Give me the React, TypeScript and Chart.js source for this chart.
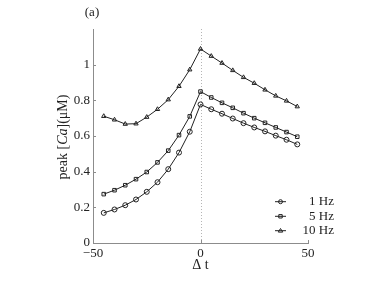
import React, { useEffect, useRef } from "react";
import { Chart, registerables } from "chart.js";

Chart.register(...registerables);

const deltaT = [-45, -40, -35, -30, -25, -20, -15, -10, -5, 0, 5, 10, 15, 20, 25, 30, 35, 40, 45];
const hz1 = [0.169, 0.188, 0.212, 0.244, 0.287, 0.341, 0.414, 0.507, 0.624, 0.777, 0.750, 0.725, 0.698, 0.672, 0.648, 0.626, 0.602, 0.579, 0.553];
const hz5 = [0.274, 0.296, 0.324, 0.358, 0.398, 0.452, 0.518, 0.605, 0.710, 0.849, 0.816, 0.786, 0.758, 0.728, 0.700, 0.674, 0.648, 0.622, 0.596];
const hz10 = [0.711, 0.691, 0.667, 0.669, 0.706, 0.750, 0.804, 0.879, 0.972, 1.088, 1.048, 1.009, 0.968, 0.929, 0.896, 0.859, 0.825, 0.797, 0.765];
const seriesLabels = ["1 Hz", "5 Hz", "10 Hz"];
const seriesMarkers = ["circle", "rect", "triangle"];
const xTicks = [-50, 0, 50];
const yTicks = [0, 0.2, 0.4, 0.6, 0.8, 1];

const FONT = "'Liberation Serif', 'DejaVu Serif', serif";
const INK = "#222";
const AXIS = "#8c8c8c";

function drawMarker(ctx: CanvasRenderingContext2D, style: string, x: number, y: number, r: number) {
  ctx.beginPath();
  if (style === "circle") {
    ctx.arc(x, y, r, 0, Math.PI * 2);
  } else if (style === "rect") {
    ctx.rect(x - r * 0.85, y - r * 0.85, r * 1.7, r * 1.7);
  } else {
    ctx.moveTo(x, y - r * 1.1);
    ctx.lineTo(x + r * 1.1, y + r * 0.7);
    ctx.lineTo(x - r * 1.1, y + r * 0.7);
    ctx.closePath();
  }
  ctx.stroke();
}

const decorPlugin = {
  id: "decor",
  beforeDatasetsDraw(chart: any) {
    const { ctx, chartArea, scales } = chart;
    const x0 = scales.x.getPixelForValue(0);
    ctx.save();
    ctx.strokeStyle = "#b5b5b5";
    ctx.lineWidth = 1;
    ctx.setLineDash([1, 2]);
    ctx.beginPath();
    ctx.moveTo(Math.round(x0) + 0.5, chartArea.top);
    ctx.lineTo(Math.round(x0) + 0.5, chartArea.bottom);
    ctx.stroke();
    ctx.setLineDash([]);
    ctx.strokeStyle = AXIS;
    ctx.beginPath();
    for (const v of xTicks) {
      const px = Math.round(scales.x.getPixelForValue(v)) + 0.5;
      ctx.moveTo(px, chartArea.bottom);
      ctx.lineTo(px, chartArea.bottom - 3);
    }
    for (const v of yTicks) {
      const py = Math.round(scales.y.getPixelForValue(v)) + 0.5;
      ctx.moveTo(chartArea.left, py);
      ctx.lineTo(chartArea.left + 3, py);
    }
    ctx.stroke();
    ctx.restore();
  },
  afterDraw(chart: any) {
    const { ctx, chartArea } = chart;
    ctx.save();
    ctx.fillStyle = INK;
    ctx.font = `13px ${FONT}`;
    ctx.textAlign = "center";
    ctx.textBaseline = "middle";
    ctx.fillText("(a)", 92, 13);
    ctx.font = `14px ${FONT}`;
    ctx.fillText("\u0394 t", (chartArea.left + chartArea.right) / 2, 265);
    const parts = [
      { t: "peak [", f: `14px ${FONT}` },
      { t: "Ca", f: `italic 14px ${FONT}` },
      { t: "](\u03bcM)", f: `14px ${FONT}` },
    ];
    let total = 0;
    for (const p of parts) {
      ctx.font = p.f;
      total += ctx.measureText(p.t).width;
    }
    ctx.translate(63, 137);
    ctx.rotate(-Math.PI / 2);
    ctx.textAlign = "left";
    let xx = -total / 2;
    for (const p of parts) {
      ctx.font = p.f;
      ctx.fillText(p.t, xx, 0);
      xx += ctx.measureText(p.t).width;
    }
    ctx.restore();

    ctx.save();
    const rows = [201.7, 216.3, 230.7];
    chart.data.datasets.forEach((ds: any, i: number) => {
      const y = rows[i];
      ctx.strokeStyle = INK;
      ctx.lineWidth = 1;
      ctx.beginPath();
      ctx.moveTo(275, y);
      ctx.lineTo(286, y);
      ctx.stroke();
      drawMarker(ctx, seriesMarkers[i], 280.5, y, 2);
      ctx.fillStyle = INK;
      ctx.font = `13px ${FONT}`;
      ctx.textAlign = "right";
      ctx.textBaseline = "middle";
      ctx.fillText(ds.label, 334, y);
    });
    ctx.restore();
  },
};

export default function App() {
  const ref = useRef<HTMLCanvasElement | null>(null);
  useEffect(() => {
    if (!ref.current) return;
    const mk = (label: string, vals: number[], marker: string) => ({
      label,
      data: deltaT.map((x, i) => ({ x, y: vals[i] })),
      borderColor: INK,
      borderWidth: 1,
      pointStyle: marker,
      pointRadius: 2.5,
      pointBorderColor: INK,
      pointBorderWidth: 1,
      pointBackgroundColor: "rgba(255,255,255,0)",
      fill: false,
      tension: 0,
    });
    const chart = new Chart(ref.current, {
      type: "line",
      data: {
        datasets: [
          mk(seriesLabels[0], hz1, seriesMarkers[0]),
          mk(seriesLabels[1], hz5, seriesMarkers[1]),
          mk(seriesLabels[2], hz10, seriesMarkers[2]),
        ],
      },
      options: {
        responsive: false,
        animation: false,
        devicePixelRatio: 1,
        layout: { padding: { top: 29, right: 74, left: 0, bottom: 0 } },
        plugins: { legend: { display: false }, tooltip: { enabled: false }, title: { display: false } },
        scales: {
          x: {
            type: "linear",
            min: -50,
            max: 50,
            afterBuildTicks: (s: any) => { s.ticks = xTicks.map((v) => ({ value: v })); },
            afterFit: (s: any) => { s.height = 43; },
            grid: { display: false, drawTicks: false },
            border: { display: true, color: AXIS, width: 1 },
            ticks: {
              padding: 3,
              color: INK,
              font: { family: FONT, size: 13 },
              maxRotation: 0,
              callback: (v: any) => (Number(v) < 0 ? "\u2212" + Math.abs(Number(v)) : String(v)),
            },
          },
          y: {
            type: "linear",
            min: 0,
            max: 1.2,
            afterBuildTicks: (s: any) => { s.ticks = yTicks.map((v) => ({ value: v })); },
            afterFit: (s: any) => { s.width = 93; },
            grid: { display: false, drawTicks: false },
            border: { display: true, color: AXIS, width: 1 },
            ticks: {
              padding: 3,
              color: INK,
              font: { family: FONT, size: 13 },
              callback: (v: any) => String(Math.round(Number(v) * 10) / 10),
            },
          },
        },
      },
      plugins: [decorPlugin],
    } as any);
    return () => chart.destroy();
  }, []);
  return (
    <div style={{ position: "fixed", left: 0, top: 0, width: 382, height: 286, background: "#fff" }}>
      <canvas ref={ref} width={382} height={286} style={{ display: "block", width: 382, height: 286 }} />
    </div>
  );
}
